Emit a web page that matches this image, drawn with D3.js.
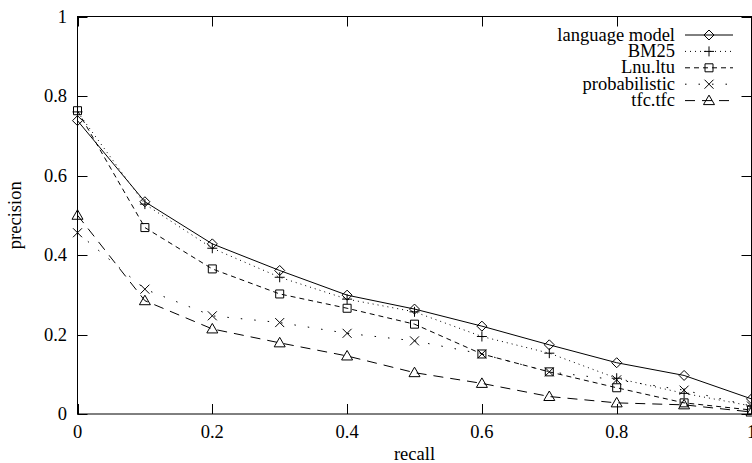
<!DOCTYPE html>
<html><head><meta charset="utf-8">
<script src="https://cdn.jsdelivr.net/npm/d3@7"></script>
<style>body{margin:0;background:#fff}svg{display:block}text{font-family:"Liberation Serif","Times New Roman",serif;fill:#000}</style>
</head><body><svg id="c" width="752" height="463"></svg>
<script>
const recall = [0,0.1,0.2,0.3,0.4,0.5,0.6,0.7,0.8,0.9,1.0];
const seriesNames = ["language model","BM25","Lnu.ltu","probabilistic","tfc.tfc"];
const languageModel = [0.738,0.534,0.428,0.361,0.299,0.264,0.221,0.174,0.129,0.097,0.038];
const bm25 =          [0.760,0.528,0.417,0.344,0.289,0.257,0.195,0.153,0.090,0.052,0.020];
const lnuLtu =        [0.763,0.469,0.365,0.302,0.266,0.226,0.151,0.106,0.066,0.028,0.010];
const probabilistic = [0.456,0.314,0.247,0.230,0.203,0.184,0.151,0.106,0.086,0.060,0.020];
const tfcTfc =        [0.500,0.285,0.214,0.179,0.146,0.104,0.077,0.044,0.028,0.023,0.005];
const xTicks = [0,0.2,0.4,0.6,0.8,1];
const yTicks = [0,0.2,0.4,0.6,0.8,1];
const tickLabels = ["0","0.2","0.4","0.6","0.8","1"];

const values = [languageModel,bm25,lnuLtu,probabilistic,tfcTfc];
const dashes = [null,"1,4","5,4","1.5,12","10,7"];
const markers = ["diamond","plus","square","cross","triangle"];

const svg = d3.select("#c");
const L=77.5,R=751.5,T=16.5,B=414;
const x = d3.scaleLinear().domain([0,1]).range([L,R]);
const y = d3.scaleLinear().domain([0,1]).range([B,T]);
const FS = "18.5px";

function markerPath(type){
  switch(type){
    case "diamond": return "M0,-5L5,0L0,5L-5,0Z";
    case "plus": return "M-5,0H5M0,-5V5";
    case "square": return "M-4,-4H4V4H-4Z";
    case "cross": return "M-4.5,-4.5L4.5,4.5M-4.5,4.5L4.5,-4.5";
    case "triangle": return "M0,-5.5L5.5,4H-5.5Z";
  }
}

svg.append("rect").attr("x",L).attr("y",T).attr("width",R-L).attr("height",B-T)
  .attr("fill","none").attr("stroke","#000").attr("stroke-width",1);

const tl=10;
xTicks.forEach((t,i)=>{
  const px=Math.round(x(t))+0.5;
  svg.append("line").attr("x1",px).attr("x2",px).attr("y1",B).attr("y2",B-tl).attr("stroke","#000");
  svg.append("line").attr("x1",px).attr("x2",px).attr("y1",T).attr("y2",T+tl).attr("stroke","#000");
  svg.append("text").attr("x",x(t)).attr("y",438).attr("text-anchor","middle").style("font-size",FS).text(tickLabels[i]);
});
yTicks.forEach((t,i)=>{
  const py=Math.round(y(t))+0.5;
  svg.append("line").attr("x1",L).attr("x2",L+tl).attr("y1",py).attr("y2",py).attr("stroke","#000");
  svg.append("line").attr("x1",R).attr("x2",R-tl).attr("y1",py).attr("y2",py).attr("stroke","#000");
  svg.append("text").attr("x",67).attr("y",y(t)+6).attr("text-anchor","end").style("font-size",FS).text(tickLabels[i]);
});

svg.append("text").attr("x",(L+R)/2).attr("y",460).attr("text-anchor","middle").style("font-size",FS).text("recall");
svg.append("text").attr("transform",`translate(21,${(T+B)/2}) rotate(-90)`).attr("text-anchor","middle").style("font-size",FS).text("precision");

const line = d3.line().x((d,i)=>x(recall[i])).y(d=>y(d));

values.forEach((vals,k)=>{
  const g = svg.append("g");
  g.append("path").attr("d",line(vals)).attr("fill","none").attr("stroke","#000").attr("stroke-width",1)
    .attr("stroke-dasharray",dashes[k]);
  vals.forEach((v,i)=>{
    g.append("path").attr("d",markerPath(markers[k])).attr("transform",`translate(${x(recall[i])},${y(v)})`)
      .attr("fill","none").attr("stroke","#000").attr("stroke-width",1);
  });
});

const legY0=35, legDy=16.4;
seriesNames.forEach((n,k)=>{
  const cy=legY0+k*legDy;
  svg.append("text").attr("x",675).attr("y",cy+5.5).attr("text-anchor","end").style("font-size",FS).text(n);
  svg.append("line").attr("x1",685).attr("x2",733).attr("y1",cy).attr("y2",cy).attr("stroke","#000").attr("stroke-dasharray",dashes[k]);
  svg.append("path").attr("d",markerPath(markers[k])).attr("transform",`translate(709,${cy})`).attr("fill","none").attr("stroke","#000");
});
</script></body></html>
